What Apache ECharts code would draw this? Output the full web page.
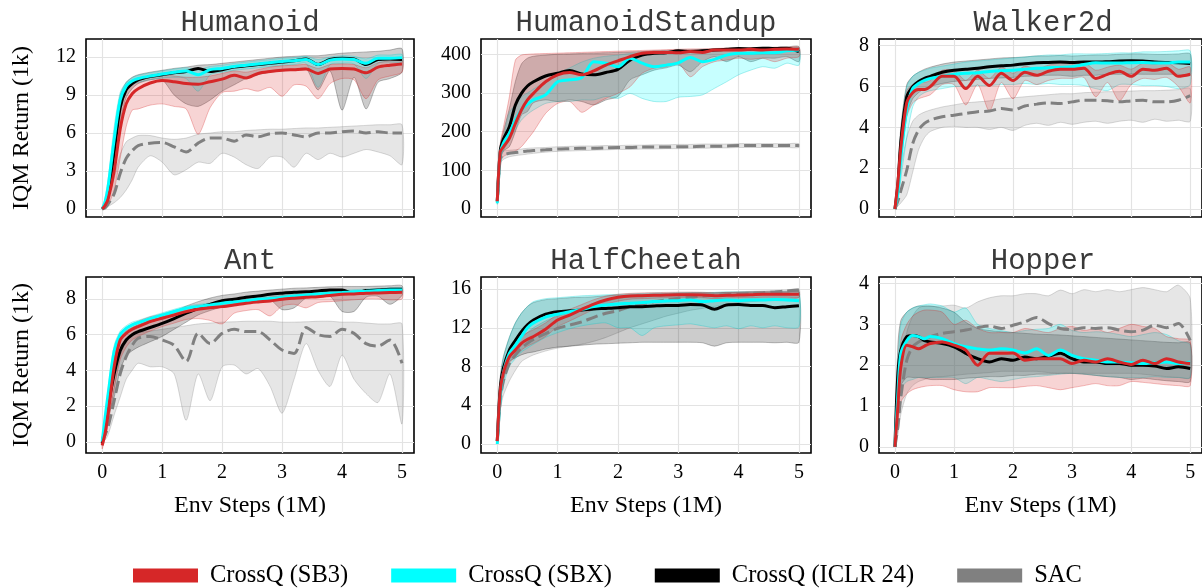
<!DOCTYPE html>
<html>
<head>
<meta charset="utf-8">
<script src="https://cdn.jsdelivr.net/npm/echarts@6/dist/echarts.min.js"></script>
<style>
  html, body { margin: 0; padding: 0; background: #ffffff; }
  #chart { width: 1202px; height: 588px; }
</style>
</head>
<body>
<div id="chart"></div>
<script>
// Environment steps (millions) at which every curve is sampled
const steps = [0, 0.05, 0.1, 0.2, 0.3, 0.4, 0.5, 0.6, 0.8, 1.0, 1.2, 1.4, 1.6, 1.8, 2.0, 2.2, 2.4, 2.6, 2.8, 3.0, 3.2, 3.4, 3.6, 3.8, 4.0, 4.2, 4.4, 4.6, 4.8, 5.0];

// Tick labels
const xTicks = [0, 1, 2, 3, 4, 5];
const humanoidTicks = [0, 3, 6, 9, 12];
const standupTicks = [0, 100, 200, 300, 400];
const walkerTicks = [0, 2, 4, 6, 8];
const antTicks = [0, 2, 4, 6, 8];
const cheetahTicks = [0, 4, 8, 12, 16];
const hopperTicks = [0, 1, 2, 3, 4];

// Humanoid: IQM return (1k) with lower / upper confidence bounds
const humanoidSB3   = [0, 0.3, 0.8, 3.0, 6.3, 8.3, 9.1, 9.5, 9.95, 10.15, 10.05, 9.9, 9.85, 10.05, 10.25, 10.55, 10.35, 10.7, 10.85, 10.95, 11.0, 11.05, 10.7, 11.05, 11.1, 11.05, 10.75, 11.2, 11.35, 11.45];
const humanoidSB3Lo = [0, 0.1, 0.3, 1.5, 4.0, 6.5, 7.8, 7.9, 8.2, 8.3, 8.1, 7.9, 5.9, 8.0, 9.2, 9.3, 9.5, 9.3, 9.6, 8.9, 9.8, 9.7, 8.7, 9.9, 10.3, 10.2, 8.7, 10.2, 10.5, 10.8];
const humanoidSB3Hi = [0, 0.5, 1.3, 4.5, 7.8, 9.3, 9.8, 10.1, 10.4, 10.6, 10.5, 10.4, 10.4, 10.5, 10.7, 10.9, 10.8, 11.0, 11.2, 11.3, 11.35, 11.4, 11.1, 11.4, 11.45, 11.4, 11.15, 11.55, 11.7, 11.8];
const humanoidSBX   = [0, 0.6, 1.8, 5.5, 8.6, 9.7, 10.1, 10.3, 10.5, 10.65, 10.8, 10.9, 10.6, 11.0, 11.1, 11.25, 11.35, 11.45, 11.55, 11.65, 11.7, 11.8, 11.4, 11.75, 11.85, 11.8, 11.5, 11.9, 11.9, 11.95];
const humanoidSBXLo = [0, 0.3, 1.2, 4.5, 7.8, 9.3, 9.8, 10.0, 10.2, 10.35, 10.4, 10.3, 9.3, 10.6, 10.8, 10.95, 11.05, 11.15, 11.25, 11.35, 11.4, 11.5, 9.6, 11.4, 11.5, 11.45, 10.3, 11.5, 11.6, 11.6];
const humanoidSBXHi = [0, 0.9, 2.4, 6.5, 9.2, 10.0, 10.35, 10.55, 10.75, 10.9, 11.05, 11.15, 11.0, 11.25, 11.35, 11.5, 11.6, 11.7, 11.8, 11.9, 11.95, 12.05, 11.8, 12.0, 12.1, 12.05, 11.85, 12.15, 12.15, 12.2];
const humanoidICLR   = [0, 0.4, 1.2, 4.5, 8.0, 9.4, 9.9, 10.2, 10.45, 10.6, 10.75, 10.85, 11.1, 10.85, 11.0, 11.2, 11.3, 11.4, 11.5, 11.6, 11.7, 11.85, 11.4, 11.8, 11.9, 11.85, 11.4, 11.8, 11.85, 11.8];
const humanoidICLRLo = [0, 0.2, 0.7, 3.2, 6.8, 8.8, 9.5, 9.9, 10.2, 10.2, 9.0, 8.3, 8.1, 8.6, 9.3, 9.8, 10.3, 10.6, 10.8, 10.9, 11.0, 11.1, 9.4, 10.9, 7.8, 10.4, 7.9, 10.0, 10.3, 10.8];
const humanoidICLRHi = [0, 0.6, 1.8, 5.8, 9.0, 10.0, 10.4, 10.6, 10.8, 10.95, 11.1, 11.2, 11.35, 11.4, 11.5, 11.6, 11.7, 11.8, 11.9, 12.0, 12.05, 12.1, 12.1, 12.2, 12.3, 12.35, 12.4, 12.45, 12.55, 12.65];
const humanoidSAC   = [0, 0.1, 0.4, 1.2, 2.8, 4.0, 4.6, 5.0, 5.2, 5.25, 4.9, 4.5, 5.2, 5.6, 5.6, 5.35, 5.85, 5.7, 5.95, 6.0, 5.85, 5.7, 6.0, 6.0, 6.1, 6.15, 6.0, 6.1, 6.0, 6.0];
const humanoidSACLo = [0, 0.05, 0.2, 0.5, 0.9, 1.5, 2.3, 3.3, 4.2, 3.7, 2.7, 3.1, 3.7, 3.6, 4.4, 4.1, 3.5, 3.2, 4.1, 4.1, 3.3, 4.4, 3.9, 4.4, 4.1, 4.4, 4.7, 4.5, 4.2, 3.5];
const humanoidSACHi = [0, 0.3, 1.0, 2.5, 4.3, 5.3, 5.6, 5.8, 5.8, 5.6, 5.5, 5.6, 5.9, 6.0, 6.1, 6.1, 6.2, 6.25, 6.3, 6.3, 6.35, 6.4, 6.4, 6.45, 6.5, 6.55, 6.6, 6.65, 6.65, 6.65];

// HumanoidStandup
const standupSB3   = [20, 148, 160, 183, 221, 256, 282, 299, 329, 347, 353, 347, 357, 372, 383, 394, 403, 405, 405, 404, 407, 405, 411, 411, 411, 413, 411, 413, 414, 413];
const standupSB3Lo = [18, 120, 135, 144, 150, 161, 180, 200, 247, 273, 278, 250, 269, 286, 299, 316, 351, 364, 368, 377, 342, 368, 381, 385, 390, 387, 390, 381, 390, 394];
const standupSB3Hi = [22, 170, 210, 290, 385, 398, 400, 401, 402, 403, 404, 405, 406, 407, 408, 409, 410, 411, 412, 413, 414, 414, 415, 416, 416, 417, 417, 418, 418, 418];
const standupSBX   = [15, 144, 170, 196, 230, 256, 271, 282, 295, 329, 334, 340, 381, 377, 368, 390, 377, 368, 372, 378, 392, 381, 387, 398, 403, 403, 404, 404, 409, 411];
const standupSBXLo = [12, 125, 150, 178, 205, 230, 245, 256, 273, 278, 278, 282, 282, 291, 286, 299, 286, 278, 278, 289, 291, 295, 312, 329, 347, 359, 368, 364, 377, 372];
const standupSBXHi = [18, 160, 185, 250, 270, 290, 300, 310, 330, 350, 365, 380, 390, 395, 398, 402, 403, 404, 405, 406, 407, 408, 409, 410, 411, 412, 413, 414, 415, 416];
const standupICLR   = [20, 152, 180, 213, 269, 299, 318, 329, 344, 351, 358, 349, 347, 353, 361, 385, 398, 403, 404, 409, 407, 409, 411, 413, 415, 414, 416, 415, 416, 407];
const standupICLRLo = [18, 130, 150, 161, 200, 243, 252, 275, 282, 278, 282, 278, 269, 282, 291, 334, 347, 359, 365, 372, 355, 381, 394, 381, 394, 381, 390, 390, 394, 381];
const standupICLRHi = [22, 165, 200, 260, 330, 375, 390, 395, 398, 400, 401, 402, 403, 404, 405, 406, 407, 409, 410, 411, 412, 413, 414, 415, 416, 417, 418, 418, 419, 420];
const standupSAC   = [20, 131, 140, 144, 146, 148, 150, 151, 153, 155, 156, 157, 157, 158, 159, 159, 160, 160, 160, 161, 161, 162, 162, 163, 164, 164, 164, 164, 164, 164];
const standupSACLo = [15, 118, 128, 135, 138, 140, 142, 144, 147, 149, 150, 151, 152, 153, 154, 154, 155, 155, 156, 156, 157, 157, 158, 158, 159, 159, 159, 159, 159, 159];
const standupSACHi = [25, 142, 150, 152, 153, 155, 157, 158, 159, 161, 162, 163, 163, 164, 164, 165, 165, 166, 166, 167, 167, 168, 168, 168, 169, 169, 169, 169, 169, 169];

// Walker2d
const walkerSB3   = [0, 1.3, 3.0, 5.2, 5.7, 5.85, 5.85, 6.0, 6.5, 6.5, 5.9, 6.5, 6.05, 6.65, 6.3, 6.7, 6.55, 6.75, 6.85, 6.85, 6.9, 6.4, 6.6, 6.75, 6.5, 6.85, 6.8, 6.9, 6.5, 6.6];
const walkerSB3Lo = [0, 0.9, 2.2, 4.5, 5.2, 5.4, 5.5, 5.6, 6.1, 6.1, 5.1, 6.1, 4.8, 6.2, 5.4, 6.3, 6.1, 6.3, 6.4, 6.4, 6.45, 5.5, 6.2, 5.3, 6.1, 6.4, 6.35, 6.45, 6.0, 5.2];
const walkerSB3Hi = [0, 1.7, 3.7, 5.8, 6.1, 6.2, 6.2, 6.3, 6.8, 6.8, 6.3, 6.8, 6.4, 6.95, 6.65, 7.0, 6.85, 7.05, 7.15, 7.15, 7.2, 6.8, 6.95, 7.05, 6.85, 7.15, 7.1, 7.2, 6.85, 6.95];
const walkerSBX   = [0, 0.8, 2.5, 4.9, 5.9, 6.15, 6.3, 6.4, 6.5, 6.6, 6.65, 6.68, 6.74, 6.78, 6.8, 6.85, 6.9, 6.92, 6.94, 6.97, 7.08, 7.17, 7.15, 7.15, 7.17, 7.18, 7.15, 7.15, 7.2, 7.2];
const walkerSBXLo = [0, 0.5, 1.5, 3.5, 5.0, 5.5, 5.7, 5.8, 5.9, 6.0, 6.0, 6.05, 6.05, 6.1, 6.1, 6.15, 6.1, 6.15, 6.1, 6.1, 6.05, 5.9, 5.8, 6.1, 6.1, 6.05, 6.05, 6.0, 5.9, 6.1];
const walkerSBXHi = [0, 1.3, 3.8, 6.0, 6.5, 6.7, 6.8, 6.9, 7.0, 7.1, 7.2, 7.25, 7.3, 7.35, 7.4, 7.45, 7.5, 7.55, 7.55, 7.6, 7.6, 7.6, 7.62, 7.65, 7.65, 7.7, 7.7, 7.72, 7.75, 7.75];
const walkerICLR   = [0, 1.2, 3.3, 5.5, 6.0, 6.25, 6.4, 6.5, 6.7, 6.8, 6.85, 6.9, 6.97, 7.02, 7.05, 7.12, 7.17, 7.18, 7.2, 7.18, 7.2, 7.2, 7.22, 7.25, 7.26, 7.25, 7.2, 7.18, 7.17, 7.13];
const walkerICLRLo = [0, 0.8, 2.5, 4.6, 5.4, 5.7, 5.9, 6.0, 6.15, 6.25, 6.3, 6.35, 6.4, 6.42, 6.45, 6.5, 6.52, 6.55, 6.55, 6.5, 6.55, 6.55, 6.6, 6.6, 6.62, 6.6, 6.6, 6.6, 6.6, 6.55];
const walkerICLRHi = [0, 1.6, 4.0, 6.1, 6.5, 6.7, 6.85, 6.95, 7.1, 7.2, 7.25, 7.3, 7.35, 7.4, 7.42, 7.45, 7.5, 7.5, 7.52, 7.5, 7.52, 7.55, 7.55, 7.58, 7.6, 7.6, 7.58, 7.58, 7.6, 7.6];
const walkerSAC   = [0, 0.4, 0.9, 1.9, 3.2, 3.87, 4.2, 4.36, 4.52, 4.6, 4.68, 4.77, 4.8, 4.93, 4.85, 5.05, 5.14, 5.2, 5.17, 5.25, 5.33, 5.33, 5.3, 5.25, 5.3, 5.33, 5.25, 5.25, 5.33, 5.55];
const walkerSACLo = [0, 0.15, 0.3, 0.7, 1.8, 2.9, 3.5, 3.8, 4.0, 4.05, 4.0, 4.0, 3.9, 4.0, 3.85, 4.1, 4.2, 4.1, 4.25, 4.15, 4.25, 4.3, 4.2, 4.3, 4.35, 4.25, 4.4, 4.3, 4.35, 4.3];
const walkerSACHi = [0, 0.8, 2.0, 3.5, 4.3, 4.6, 4.75, 4.85, 5.0, 5.1, 5.2, 5.25, 5.3, 5.4, 5.45, 5.5, 5.55, 5.6, 5.65, 5.65, 5.7, 5.72, 5.75, 5.75, 5.78, 5.8, 5.8, 5.82, 5.85, 5.9];

// Ant
const antSB3   = [-0.2, 0.5, 1.6, 4.2, 5.7, 6.07, 6.3, 6.45, 6.73, 6.92, 7.1, 7.29, 7.42, 7.51, 7.57, 7.66, 7.76, 7.83, 7.89, 7.98, 8.04, 8.09, 8.13, 8.19, 8.26, 8.28, 8.32, 8.34, 8.36, 8.37];
const antSB3Lo = [-0.4, 0.2, 1.0, 3.0, 4.6, 5.3, 5.7, 5.9, 6.2, 6.45, 6.65, 6.85, 6.9, 6.8, 6.6, 7.2, 7.35, 7.4, 7.05, 7.6, 7.7, 7.5, 7.8, 7.85, 7.9, 7.95, 8.0, 8.0, 7.95, 8.0];
const antSB3Hi = [0, 0.8, 2.2, 5.0, 6.1, 6.4, 6.6, 6.75, 7.0, 7.15, 7.35, 7.5, 7.63, 7.72, 7.8, 7.88, 7.96, 8.04, 8.1, 8.18, 8.23, 8.28, 8.32, 8.37, 8.42, 8.45, 8.48, 8.5, 8.52, 8.53];
const antSBX   = [0, 1.4, 2.7, 5.1, 6.0, 6.35, 6.55, 6.67, 6.9, 7.1, 7.3, 7.48, 7.57, 7.66, 7.76, 7.83, 7.9, 7.98, 8.02, 8.09, 8.17, 8.22, 8.28, 8.32, 8.36, 8.4, 8.43, 8.47, 8.5, 8.5];
const antSBXLo = [0, 1.2, 2.4, 4.8, 5.8, 6.2, 6.4, 6.55, 6.78, 6.98, 7.18, 7.35, 7.45, 7.54, 7.64, 7.71, 7.78, 7.86, 7.9, 7.97, 8.05, 8.1, 8.16, 8.2, 8.24, 8.28, 8.31, 8.35, 8.38, 8.38];
const antSBXHi = [0, 1.6, 3.0, 5.4, 6.2, 6.5, 6.7, 6.8, 7.02, 7.22, 7.42, 7.6, 7.69, 7.78, 7.88, 7.95, 8.02, 8.1, 8.14, 8.21, 8.29, 8.34, 8.4, 8.44, 8.48, 8.52, 8.55, 8.59, 8.62, 8.62];
const antICLR   = [-0.1, 0.9, 2.0, 3.8, 5.1, 5.7, 6.0, 6.17, 6.4, 6.63, 6.9, 7.2, 7.48, 7.7, 7.9, 7.98, 8.1, 8.17, 8.26, 8.32, 8.37, 8.4, 8.45, 8.5, 8.5, 8.3, 8.47, 8.5, 8.54, 8.54];
const antICLRLo = [-0.2, 0.5, 1.4, 2.5, 4.0, 4.8, 5.1, 5.3, 5.6, 5.9, 6.3, 6.7, 7.1, 7.35, 7.55, 7.7, 7.8, 7.9, 7.95, 7.4, 7.5, 8.05, 8.1, 8.15, 7.3, 7.3, 8.1, 8.15, 7.7, 8.2];
const antICLRHi = [0, 1.3, 2.6, 4.8, 5.8, 6.2, 6.4, 6.55, 6.8, 7.0, 7.3, 7.6, 7.85, 8.05, 8.2, 8.28, 8.38, 8.44, 8.5, 8.55, 8.6, 8.62, 8.65, 8.68, 8.7, 8.7, 8.7, 8.72, 8.74, 8.74];
const antSAC   = [0, 0.4, 0.85, 2.3, 3.8, 4.77, 5.4, 5.8, 5.9, 5.7, 5.4, 4.5, 6.07, 5.5, 6.07, 6.3, 6.17, 6.17, 5.7, 5.14, 4.95, 6.4, 6.0, 5.9, 6.3, 6.07, 5.5, 5.36, 5.7, 4.4];
const antSACLo = [0, 0.1, 0.4, 1.5, 2.5, 3.5, 4.0, 4.4, 4.2, 4.2, 3.8, 1.2, 3.8, 2.3, 4.2, 4.3, 3.8, 4.1, 3.1, 1.6, 3.5, 5.5, 4.0, 3.1, 4.85, 3.5, 2.7, 2.2, 3.8, 1.0];
const antSACHi = [0, 0.6, 1.2, 3.0, 4.8, 5.6, 6.0, 6.1, 6.2, 6.3, 6.4, 6.5, 6.6, 6.65, 6.7, 6.72, 6.75, 6.75, 6.75, 6.7, 6.7, 6.72, 6.75, 6.75, 6.7, 6.7, 6.65, 6.6, 6.6, 6.6];

// HalfCheetah
const cheetahSB3   = [0.3, 5.5, 7.3, 9.0, 9.7, 10.4, 10.8, 11.1, 11.84, 12.8, 13.3, 13.9, 14.45, 14.87, 15.14, 15.28, 15.31, 15.35, 15.38, 15.4, 15.4, 15.38, 15.31, 15.35, 15.38, 15.4, 15.45, 15.45, 15.45, 15.45];
const cheetahSB3Lo = [0.2, 5.0, 6.6, 8.3, 9.0, 9.7, 10.1, 10.4, 11.1, 12.1, 12.7, 13.3, 13.9, 14.4, 14.75, 14.95, 15.0, 15.05, 15.1, 15.1, 15.1, 15.1, 15.0, 15.05, 15.1, 15.1, 15.15, 15.15, 15.15, 15.15];
const cheetahSB3Hi = [0.4, 6.0, 8.0, 9.7, 10.4, 11.1, 11.5, 11.8, 12.5, 13.4, 13.9, 14.4, 14.9, 15.25, 15.45, 15.55, 15.6, 15.62, 15.65, 15.67, 15.68, 15.66, 15.6, 15.63, 15.66, 15.68, 15.72, 15.72, 15.72, 15.72];
const cheetahSBX   = [0, 5.0, 7.3, 9.36, 10.2, 11.1, 12.0, 12.5, 13.1, 13.4, 13.66, 13.9, 14.18, 14.35, 14.45, 14.52, 14.6, 14.7, 14.76, 14.8, 14.87, 14.7, 14.8, 14.87, 14.8, 14.87, 14.87, 14.93, 14.87, 14.8];
const cheetahSBXLo = [0, 4.2, 6.0, 8.0, 8.8, 9.5, 9.9, 10.3, 11.0, 11.5, 11.9, 12.2, 12.4, 12.5, 12.0, 12.0, 11.2, 12.0, 12.2, 12.3, 12.4, 12.2, 12.0, 12.2, 11.9, 12.2, 12.0, 12.2, 12.0, 12.1];
const cheetahSBXHi = [0.3, 6.5, 8.8, 11.0, 12.5, 13.5, 14.2, 14.7, 15.0, 15.1, 15.2, 15.3, 15.35, 15.4, 15.45, 15.5, 15.55, 15.6, 15.6, 15.65, 15.65, 15.65, 15.65, 15.7, 15.7, 15.7, 15.7, 15.75, 15.75, 15.75];
const cheetahICLR   = [0.3, 5.9, 7.8, 9.7, 10.7, 11.6, 12.3, 12.8, 13.4, 13.66, 13.76, 13.83, 13.94, 14.0, 14.07, 14.18, 14.18, 14.25, 14.3, 14.3, 14.4, 14.35, 13.9, 14.35, 14.4, 14.3, 14.3, 14.07, 14.18, 14.28];
const cheetahICLRLo = [0.2, 4.5, 6.5, 8.5, 8.9, 9.2, 9.4, 9.5, 9.8, 10.0, 10.1, 10.2, 10.3, 10.35, 10.4, 10.45, 10.5, 10.5, 10.5, 10.5, 10.5, 10.45, 10.1, 10.45, 10.5, 10.5, 10.5, 10.45, 10.5, 10.5];
const cheetahICLRHi = [0.5, 7.0, 9.0, 11.0, 12.5, 13.5, 14.2, 14.6, 14.9, 15.0, 15.1, 15.15, 15.2, 15.3, 15.35, 15.4, 15.45, 15.5, 15.5, 15.55, 15.6, 15.6, 15.6, 15.65, 15.65, 15.7, 15.7, 15.7, 15.7, 15.7];
const cheetahSAC   = [0.3, 4.5, 6.5, 8.3, 9.2, 9.9, 10.4, 10.8, 11.4, 11.94, 12.28, 12.6, 13.08, 13.5, 13.76, 14.18, 14.45, 14.7, 14.87, 15.04, 15.14, 15.28, 15.35, 15.42, 15.49, 15.55, 15.62, 15.7, 15.8, 15.9];
const cheetahSACLo = [0.2, 3.5, 5.0, 6.5, 7.6, 8.5, 8.9, 9.2, 9.6, 9.9, 10.1, 10.3, 10.6, 11.0, 11.5, 12.0, 12.4, 12.8, 13.2, 13.5, 13.8, 14.0, 14.2, 14.4, 14.6, 14.7, 14.8, 14.9, 15.0, 15.1];
const cheetahSACHi = [0.4, 5.5, 8.0, 9.5, 10.3, 11.0, 11.5, 12.0, 12.7, 13.2, 13.6, 14.0, 14.4, 14.7, 15.0, 15.2, 15.35, 15.42, 15.48, 15.52, 15.56, 15.6, 15.64, 15.68, 15.72, 15.76, 15.8, 15.85, 15.9, 16.0];

// Hopper
const hopperSB3   = [0, 1.0, 1.96, 2.49, 2.45, 2.4, 2.47, 2.53, 2.57, 2.49, 2.37, 2.0, 2.29, 2.29, 2.3, 2.12, 2.16, 2.16, 2.16, 2.04, 2.12, 2.08, 2.16, 2.08, 2.02, 2.12, 2.04, 2.16, 2.08, 2.04];
const hopperSB3Lo = [0, 0.6, 1.1, 1.3, 1.4, 1.45, 1.48, 1.5, 1.5, 1.4, 1.35, 1.35, 1.45, 1.45, 1.45, 1.48, 1.5, 1.45, 1.4, 1.45, 1.5, 1.55, 1.5, 1.5, 1.6, 1.58, 1.55, 1.52, 1.5, 1.5];
const hopperSB3Hi = [0, 1.5, 2.6, 3.0, 3.2, 3.3, 3.35, 3.35, 3.3, 3.0, 3.1, 2.9, 2.8, 2.8, 2.8, 2.9, 2.85, 2.8, 2.9, 2.95, 2.85, 2.9, 2.8, 2.9, 3.0, 2.95, 2.9, 2.7, 2.65, 2.6];
const hopperSBX   = [0, 1.3, 2.29, 2.6, 2.73, 2.7, 2.65, 2.7, 2.65, 2.53, 2.45, 2.4, 2.37, 2.4, 2.37, 2.3, 2.4, 2.24, 2.37, 2.24, 2.16, 2.12, 2.08, 2.08, 2.06, 2.04, 2.06, 2.08, 2.04, 2.08];
const hopperSBXLo = [0, 0.8, 1.4, 1.6, 1.65, 1.7, 1.7, 1.7, 1.7, 1.7, 1.55, 1.7, 1.65, 1.6, 1.65, 1.7, 1.72, 1.75, 1.78, 1.8, 1.78, 1.75, 1.72, 1.7, 1.7, 1.7, 1.72, 1.7, 1.7, 1.7];
const hopperSBXHi = [0, 2.0, 3.0, 3.3, 3.4, 3.45, 3.48, 3.5, 3.45, 3.3, 3.4, 3.0, 2.9, 2.85, 2.8, 2.85, 2.88, 2.9, 3.0, 2.85, 2.8, 2.82, 2.8, 2.75, 2.7, 2.75, 2.8, 2.75, 2.6, 2.5];
const hopperICLR   = [0, 1.8, 2.37, 2.7, 2.73, 2.7, 2.6, 2.57, 2.53, 2.45, 2.29, 2.16, 2.08, 2.16, 2.12, 2.2, 2.16, 2.22, 2.29, 2.16, 2.08, 2.08, 2.04, 2.04, 2.0, 2.0, 1.98, 1.92, 1.96, 1.92];
const hopperICLRLo = [0, 1.0, 1.5, 1.7, 1.7, 1.7, 1.68, 1.65, 1.65, 1.65, 1.68, 1.7, 1.72, 1.72, 1.75, 1.75, 1.78, 1.78, 1.8, 1.8, 1.78, 1.75, 1.72, 1.7, 1.65, 1.68, 1.65, 1.62, 1.6, 1.6];
const hopperICLRHi = [0, 2.5, 3.1, 3.3, 3.4, 3.45, 3.45, 3.45, 3.4, 3.3, 3.05, 2.9, 2.85, 2.82, 2.8, 2.78, 2.76, 2.75, 2.74, 2.72, 2.7, 2.68, 2.66, 2.64, 2.62, 2.6, 2.58, 2.56, 2.55, 2.55];
const hopperSAC   = [0, 0.5, 1.22, 2.12, 2.45, 2.57, 2.63, 2.7, 2.78, 2.82, 2.86, 2.92, 2.96, 2.9, 2.98, 3.06, 3.17, 3.02, 2.9, 2.87, 2.92, 2.9, 2.92, 2.86, 2.82, 2.86, 2.98, 2.92, 3.02, 2.61];
const hopperSACLo = [0, 0.3, 0.8, 1.3, 1.5, 1.6, 1.65, 1.7, 1.72, 1.75, 1.78, 1.8, 1.82, 1.85, 1.85, 1.85, 1.85, 1.82, 1.8, 1.8, 1.8, 1.8, 1.8, 1.8, 1.8, 1.78, 1.75, 1.72, 1.7, 1.7];
const hopperSACHi = [0, 0.8, 1.8, 2.8, 3.2, 3.4, 3.45, 3.45, 3.45, 3.47, 3.4, 3.55, 3.65, 3.7, 3.7, 3.75, 3.75, 3.7, 3.84, 3.75, 3.85, 3.8, 3.85, 3.8, 3.85, 3.9, 3.85, 3.8, 3.96, 3.63];

// Algorithms: legend name, line colour, band fill, band edge, dash
const algos = [
  { key: 'SAC',  name: 'SAC',              color: '#808080', fill: 'rgba(128,128,128,0.2)', edge: 'rgba(128,128,128,0.3)', dash: [12, 5], z: 3 },
  { key: 'ICLR', name: 'CrossQ (ICLR 24)', color: '#000000', fill: 'rgba(0,0,0,0.2)',       edge: 'rgba(0,0,0,0.25)',      dash: 'solid', z: 4 },
  { key: 'SBX',  name: 'CrossQ (SBX)',     color: '#00ffff', fill: 'rgba(0,255,255,0.22)',  edge: 'rgba(0,200,200,0.3)',   dash: 'solid', z: 5 },
  { key: 'SB3',  name: 'CrossQ (SB3)',     color: '#d62728', fill: 'rgba(214,39,40,0.2)',   edge: 'rgba(214,39,40,0.3)',   dash: 'solid', z: 6 }
];

// Panel layout (pixel boxes) and the data belonging to each environment
const panels = [
  { title: 'Humanoid', left: 86, top: 39, width: 328, height: 178, yMin: -0.63, yMax: 13.42, ticks: humanoidTicks, row: 0, col: 0,
    data: { SB3: [humanoidSB3, humanoidSB3Lo, humanoidSB3Hi], SBX: [humanoidSBX, humanoidSBXLo, humanoidSBXHi], ICLR: [humanoidICLR, humanoidICLRLo, humanoidICLRHi], SAC: [humanoidSAC, humanoidSACLo, humanoidSACHi] } },
  { title: 'HumanoidStandup', left: 481, top: 39, width: 330, height: 178, yMin: -20.7, yMax: 439.6, ticks: standupTicks, row: 0, col: 1,
    data: { SB3: [standupSB3, standupSB3Lo, standupSB3Hi], SBX: [standupSBX, standupSBXLo, standupSBXHi], ICLR: [standupICLR, standupICLRLo, standupICLRHi], SAC: [standupSAC, standupSACLo, standupSACHi] } },
  { title: 'Walker2d', left: 879, top: 39, width: 328, height: 178, yMin: -0.39, yMax: 8.33, ticks: walkerTicks, row: 0, col: 2,
    data: { SB3: [walkerSB3, walkerSB3Lo, walkerSB3Hi], SBX: [walkerSBX, walkerSBXLo, walkerSBXHi], ICLR: [walkerICLR, walkerICLRLo, walkerICLRHi], SAC: [walkerSAC, walkerSACLo, walkerSACHi] } },
  { title: 'Ant', left: 86, top: 277, width: 328, height: 176, yMin: -0.63, yMax: 9.23, ticks: antTicks, row: 1, col: 0,
    data: { SB3: [antSB3, antSB3Lo, antSB3Hi], SBX: [antSBX, antSBXLo, antSBXHi], ICLR: [antICLR, antICLRLo, antICLRHi], SAC: [antSAC, antSACLo, antSACHi] } },
  { title: 'HalfCheetah', left: 481, top: 277, width: 330, height: 176, yMin: -0.93, yMax: 17.24, ticks: cheetahTicks, row: 1, col: 1,
    data: { SB3: [cheetahSB3, cheetahSB3Lo, cheetahSB3Hi], SBX: [cheetahSBX, cheetahSBXLo, cheetahSBXHi], ICLR: [cheetahICLR, cheetahICLRLo, cheetahICLRHi], SAC: [cheetahSAC, cheetahSACLo, cheetahSACHi] } },
  { title: 'Hopper', left: 879, top: 277, width: 328, height: 176, yMin: -0.15, yMax: 4.16, ticks: hopperTicks, row: 1, col: 2,
    data: { SB3: [hopperSB3, hopperSB3Lo, hopperSB3Hi], SBX: [hopperSBX, hopperSBXLo, hopperSBXHi], ICLR: [hopperICLR, hopperICLRLo, hopperICLRHi], SAC: [hopperSAC, hopperSACLo, hopperSACHi] } }
];

const SERIF = "'Liberation Serif', 'Times New Roman', serif";
const MONO = "'Liberation Mono', 'Courier New', monospace";

const grids = [], xAxes = [], yAxes = [], titles = [], series = [];

panels.forEach((p, i) => {
  grids.push({ left: p.left, top: p.top, width: p.width, height: p.height, show: true,
               borderColor: '#000', borderWidth: 1.6, backgroundColor: 'transparent', containLabel: false });
  titles.push({ text: p.title, left: p.left + p.width / 2, top: p.top - 30, textAlign: 'center', padding: 0,
                textStyle: { fontFamily: MONO, fontSize: 29, fontWeight: 'normal', color: '#3a3a3a' } });
  xAxes.push({
    type: 'value', gridIndex: i, min: -0.27, max: 5.2,
    axisLine: { show: false }, axisTick: { show: false, customValues: xTicks },
    axisLabel: { show: p.row === 1, customValues: xTicks, fontFamily: SERIF, fontSize: 20, color: '#000', margin: 10 },
    splitLine: { show: true, lineStyle: { color: '#e3e3e3', width: 1.2 } },
    name: p.row === 1 ? 'Env Steps (1M)' : '', nameLocation: 'middle', nameGap: 41,
    nameTextStyle: { fontFamily: SERIF, fontSize: 24, color: '#000' }
  });
  yAxes.push({
    type: 'value', gridIndex: i, min: p.yMin, max: p.yMax,
    axisLine: { show: false }, axisTick: { show: false, customValues: p.ticks },
    axisLabel: { customValues: p.ticks, fontFamily: SERIF, fontSize: 20, color: '#000', margin: 10 },
    splitLine: { show: true, lineStyle: { color: '#e3e3e3', width: 1.2 } },
    name: p.col === 0 ? 'IQM Return (1k)' : '', nameLocation: 'middle', nameGap: 52,
    nameTextStyle: { fontFamily: SERIF, fontSize: 24, color: '#000' }
  });

  // Confidence bands: one filled polygon per algorithm, mapped through the axes
  algos.forEach(a => {
    const lo = p.data[a.key][1], hi = p.data[a.key][2];
    series.push({
      type: 'custom', name: a.name + ' band', xAxisIndex: i, yAxisIndex: i,
      silent: true, clip: true, z: 1,
      data: [[steps[0], lo[0]]],
      renderItem: (params, api) => {
        const pts = [];
        for (let k = 0; k < steps.length; k++) pts.push(api.coord([steps[k], hi[k]]));
        for (let k = steps.length - 1; k >= 0; k--) pts.push(api.coord([steps[k], lo[k]]));
        return { type: 'polygon', shape: { points: pts, smooth: 0.25 },
                 style: { fill: a.fill, stroke: a.edge, lineWidth: 1 } };
      }
    });
  });

  // Mean curves
  algos.forEach(a => {
    const mean = p.data[a.key][0];
    series.push({
      type: 'line', name: a.name, xAxisIndex: i, yAxisIndex: i,
      data: steps.map((x, k) => [x, mean[k]]),
      showSymbol: false, smooth: 0.3, silent: true, z: a.z,
      color: a.color,
      lineStyle: { color: a.color, width: 3, type: a.dash }
    });
  });
});

const chart = echarts.init(document.getElementById('chart'), null, { renderer: 'canvas' });
chart.setOption({
  animation: false,
  backgroundColor: '#ffffff',
  title: titles,
  grid: grids,
  xAxis: xAxes,
  yAxis: yAxes,
  legend: {
    data: ['CrossQ (SB3)', 'CrossQ (SBX)', 'CrossQ (ICLR 24)', 'SAC'].map(n => ({
      name: n, icon: 'rect',
      itemStyle: { color: algos.find(a => a.name === n).color, borderWidth: 0 }
    })),
    left: 133, top: 563, padding: 0, itemWidth: 65, itemHeight: 14, itemGap: 43,
    selectedMode: false,
    textStyle: { fontFamily: SERIF, fontSize: 24.5, color: '#000', padding: [0, 0, 0, 7] }
  },
  series: series
});
</script>
</body>
</html>
